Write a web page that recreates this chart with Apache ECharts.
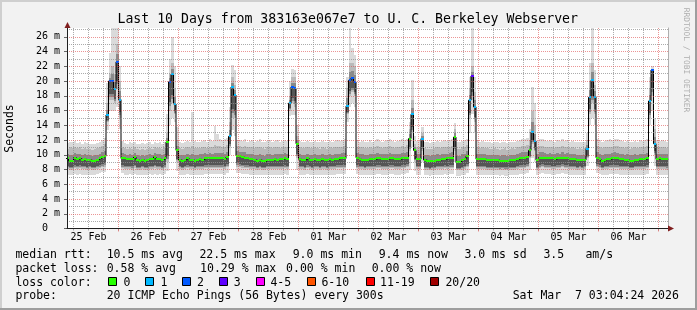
<!DOCTYPE html>
<html><head><meta charset="utf-8">
<script src="https://cdn.jsdelivr.net/npm/echarts@6/dist/echarts.min.js"></script>
<style>html,body{margin:0;padding:0;background:#f2f2f2}#c{width:697px;height:310px}</style>
</head><body><div id="c"></div>
<script>
// ---------------- DATA ----------------
// hourly steps, hour 0 = 25 Feb 00:00; first step starts at 03:00
const startHour = 3;
const dayLabels = ['25 Feb','26 Feb','27 Feb','28 Feb','01 Mar','02 Mar','03 Mar','04 Mar','05 Mar','06 Mar'];
const yTickValues = [0,2,4,6,8,10,12,14,16,18,20,22,24,26];

const median = [
 9.5,9.2,9.2,9.6,9.4,9.5,9.3,9.4,9.3,9.3,9.2,9.2,9.3,9.5,9.7,9.8,15.4,20.0,20.0,18.9,22.6,
 17.5,9.5,9.5,9.4,9.4,9.4,9.7,9.3,9.2,9.3,9.2,9.3,9.4,9.4,9.7,9.4,9.4,9.3,9.5,11.75,19.9,20.9,16.9,10.6,
 9.3,9.2,9.3,9.5,9.3,9.3,9.2,9.3,9.4,9.3,9.5,9.5,9.5,9.5,9.5,9.5,9.5,9.5,9.4,9.7,12.5,19.2,18.1,9.9,
 9.8,9.7,9.6,9.5,9.4,9.4,9.3,9.2,9.3,9.2,9.1,9.3,9.3,9.3,9.4,9.3,9.4,9.4,9.5,9.4,17.0,19.2,19.0,11.5,
 9.4,9.3,9.3,9.5,9.3,9.3,9.4,9.3,9.3,9.4,9.3,9.3,9.4,9.3,9.4,9.4,9.5,9.5,9.5,16.6,20.1,20.4,19.9,9.6,
 9.4,9.3,9.3,9.3,9.4,9.4,9.4,9.5,9.5,9.4,9.4,9.4,9.5,9.5,9.4,9.4,9.4,9.5,9.5,9.6,12.2,15.5,10.6,9.4,
 9.4,12.2,9.3,9.2,9.1,9.2,9.2,9.3,9.3,9.4,9.4,9.5,9.5,9.6,12.4,9.0,9.05,9.3,9.4,9.8,17.4,20.7,16.5,9.4,
 9.4,9.4,9.4,9.3,9.3,9.3,9.3,9.3,9.2,9.2,9.2,9.2,9.3,9.3,9.3,9.4,9.5,9.6,9.6,9.7,10.6,13.1,11.9,9.3,
 9.6,9.6,9.6,9.5,9.5,9.5,9.4,9.5,9.5,9.6,9.5,9.5,9.4,9.4,9.4,9.3,9.3,9.3,9.3,10.85,17.8,20.1,17.9,9.6,
 9.4,9.1,9.3,9.4,9.4,9.5,9.6,9.5,9.4,9.4,9.3,9.3,9.2,9.2,9.3,9.3,9.4,9.4,9.4,9.5,17.3,21.5,11.5,9.4,
 9.5,9.4,9.4,9.4
];
const loss = [
 0,0,0,0,0,0,0,0,0,0,0,0,0,0,0,0,1,2,2,1,2,
 1,0,0,0,0,0,0,0,0,0,0,0,0,0,0,0,0,0,0,0,2,1,1,0,
 0,0,0,0,0,0,0,0,0,0,0,0,0,0,0,0,0,0,0,0,1,1,1,0,
 0,0,0,0,0,0,0,0,0,0,0,0,0,0,0,0,0,0,0,0,1,2,2,0,
 0,0,0,0,0,0,0,0,0,0,0,0,0,0,0,0,0,0,0,1,2,2,2,0,
 0,0,0,0,0,0,0,0,0,0,0,0,0,0,0,0,0,0,0,0,0,1,0,0,
 0,1,0,0,0,0,0,0,0,0,0,0,0,0,0,0,0,0,0,0,1,3,1,0,
 0,0,0,0,0,0,0,0,0,0,0,0,0,0,0,0,0,0,0,0,0,1,1,0,
 0,0,0,0,0,0,0,0,0,0,0,0,0,0,0,0,0,0,0,1,1,1,1,0,
 0,0,0,0,0,0,0,0,0,0,0,0,0,0,0,0,0,0,0,0,1,2,1,0,
 0,0,0,0
];
const smokeMax = [
 11.6,11.8,11.7,11.9,11.6,11.8,11.5,11.7,11.6,11.5,11.4,11.5,11.6,11.8,12.0,12.3,19.7,23.8,27.5,27.5,27.5,
 22.0,11.9,11.6,11.5,11.7,11.6,11.8,11.5,11.4,11.6,11.5,11.6,11.7,11.5,11.8,11.6,11.7,11.5,11.8,15.6,23.0,26.0,22.0,13.8,
 11.7,11.6,11.8,11.9,11.7,15.8,11.9,11.8,11.7,11.9,12.0,11.8,12.1,11.9,13.9,12.8,12.2,12.0,12.1,12.3,16.5,22.2,21.5,12.0,
 12.0,11.9,12.1,11.8,11.9,12.0,11.8,11.9,12.1,11.8,11.7,11.9,12.0,11.8,11.9,12.0,11.8,11.9,12.0,11.9,20.0,21.7,21.5,14.0,
 11.9,11.8,11.7,11.9,11.8,11.7,11.9,11.8,11.7,11.9,11.8,11.7,11.9,11.8,11.9,12.0,11.9,12.0,12.1,20.5,27.3,24.5,23.5,12.0,
 11.8,11.9,11.7,11.8,12.0,11.8,11.9,12.1,11.9,11.8,11.9,12.0,12.1,11.9,11.8,11.9,12.0,12.1,12.0,12.2,14.5,20.1,12.5,11.9,
 11.9,13.8,11.8,11.7,11.6,11.7,11.8,11.9,11.8,11.9,12.0,11.9,12.0,12.1,14.3,11.8,11.7,11.9,12.0,12.2,20.6,27.3,20.5,12.0,
 11.8,11.9,11.7,11.8,11.7,11.6,11.8,11.7,11.6,11.7,11.8,11.6,11.7,11.8,11.7,11.9,12.0,12.1,12.2,12.3,13.5,19.2,17.0,11.9,
 12.1,12.2,12.0,11.9,12.0,11.9,11.8,12.0,11.9,12.1,11.9,12.0,11.8,11.9,11.8,11.7,11.8,11.7,11.8,13.0,22.5,27.3,21.5,12.2,
 12.0,11.8,11.9,12.0,12.1,12.0,12.2,12.1,12.0,11.9,11.8,11.9,11.7,11.8,11.9,11.8,12.0,11.9,12.0,12.1,20.5,22.0,15.0,12.0,
 11.9,12.0,11.9,11.8
];
const smokeHigh = [
 10.8,11.0,10.9,11.1,10.9,11.0,10.8,10.9,10.8,10.8,10.7,10.8,10.9,11.0,11.2,11.4,17.0,21.0,22.0,21.0,25.0,
 20.0,11.1,10.9,10.8,10.9,10.8,11.0,10.8,10.7,10.8,10.7,10.8,10.9,10.8,11.0,10.9,10.9,10.8,11.0,13.0,21.0,22.5,19.0,12.0,
 10.9,10.8,10.9,11.0,10.9,11.2,10.9,10.9,10.9,11.0,11.1,10.9,11.1,11.0,11.3,11.2,11.2,11.1,11.0,11.3,14.5,20.5,19.5,11.2,
 11.2,11.1,11.2,11.0,11.0,11.1,10.9,11.0,11.1,10.9,10.8,11.0,11.1,10.9,11.0,11.1,10.9,11.0,11.1,11.0,18.0,20.5,20.5,12.5,
 11.0,10.9,10.9,11.0,10.9,10.9,11.0,10.9,10.8,11.0,10.9,10.8,11.0,10.9,11.0,11.1,11.0,11.1,11.2,19.0,22.5,22.5,22.0,11.1,
 11.0,11.0,10.9,10.9,11.1,10.9,11.0,11.2,11.0,10.9,11.0,11.1,11.2,11.0,10.9,11.0,11.1,11.2,11.1,11.3,13.5,17.5,11.5,11.0,
 11.0,13.0,10.9,10.8,10.8,10.8,10.9,11.0,10.9,11.0,11.1,11.0,11.1,11.2,13.5,10.8,10.8,11.0,11.1,11.3,19.0,22.0,18.5,11.1,
 10.9,11.0,10.9,10.9,10.8,10.8,10.9,10.8,10.7,10.8,10.9,10.7,10.8,10.9,10.8,11.0,11.1,11.2,11.2,11.3,12.0,16.0,14.0,11.0,
 11.2,11.2,11.1,11.0,11.1,11.0,10.9,11.1,11.0,11.2,11.0,11.1,10.9,11.0,10.9,10.8,10.9,10.8,10.9,12.0,20.0,22.5,19.5,11.2,
 11.1,10.9,11.0,11.1,11.1,11.1,11.2,11.2,11.1,11.0,10.9,11.0,10.8,10.9,11.0,10.9,11.1,11.0,11.1,11.2,19.0,21.5,13.5,11.0,
 11.0,11.1,11.0,10.9
];
const smokeLow = [
 8.1,8.0,8.0,8.2,8.1,8.2,8.1,8.1,8.0,8.1,8.0,8.0,8.1,8.2,8.3,8.4,14.5,17.5,17.5,17.0,19.0,
 15.0,8.2,8.1,8.1,8.1,8.0,8.2,8.0,8.0,8.1,8.0,8.0,8.1,8.1,8.2,8.1,8.1,8.0,8.2,9.0,16.0,17.0,15.5,9.0,
 8.1,8.0,8.1,8.2,8.1,8.1,8.0,8.1,8.1,8.1,8.2,8.2,8.2,8.2,8.2,8.2,8.2,8.2,8.1,8.3,11.0,15.0,15.0,8.4,
 8.3,8.2,8.2,8.2,8.1,8.1,8.1,8.0,8.1,8.0,8.0,8.1,8.1,8.1,8.1,8.1,8.1,8.1,8.2,8.1,16.0,17.0,16.5,9.5,
 8.1,8.1,8.0,8.2,8.1,8.0,8.1,8.1,8.0,8.1,8.1,8.0,8.1,8.1,8.1,8.2,8.2,8.2,8.2,15.5,18.0,18.5,18.0,8.2,
 8.1,8.1,8.0,8.1,8.1,8.1,8.1,8.2,8.2,8.1,8.1,8.1,8.2,8.2,8.1,8.1,8.1,8.2,8.2,8.3,10.5,13.0,9.0,8.1,
 8.1,10.5,8.0,8.0,7.9,8.0,8.0,8.1,8.1,8.1,8.2,8.1,8.2,8.2,10.5,7.9,7.9,8.0,8.1,8.3,15.0,17.5,14.5,8.1,
 8.1,8.1,8.1,8.0,8.0,8.0,8.0,8.0,7.9,8.0,7.9,7.9,8.0,8.0,8.0,8.1,8.2,8.2,8.2,8.3,9.5,11.5,10.5,8.0,
 8.2,8.3,8.2,8.2,8.2,8.1,8.1,8.2,8.2,8.3,8.2,8.2,8.1,8.1,8.1,8.0,8.1,8.0,8.1,9.5,15.5,17.0,15.5,8.3,
 8.2,8.0,8.1,8.1,8.2,8.2,8.2,8.2,8.1,8.1,8.1,8.1,8.0,8.0,8.1,8.1,8.1,8.1,8.1,8.2,15.0,18.0,10.0,8.1,
 8.1,8.1,8.1,8.0
];
const smokeMin = [
 7.3,7.3,7.2,7.4,7.3,7.4,7.3,7.3,7.2,7.3,7.3,7.3,7.4,7.5,7.6,7.7,13.4,16.0,16.0,16.0,16.5,
 13.5,7.5,7.3,7.3,7.4,7.3,7.4,7.2,7.2,7.3,7.3,7.3,7.4,7.3,7.4,7.3,7.4,7.3,7.4,7.8,14.0,15.0,14.5,7.8,
 7.3,7.2,7.3,7.4,7.3,7.3,7.2,7.3,7.3,7.3,7.4,7.4,7.4,7.4,7.4,7.4,7.4,7.4,7.3,7.5,10.0,13.3,12.5,7.5,
 7.5,7.4,7.4,7.4,7.3,7.3,7.3,7.2,7.3,7.2,7.2,7.3,7.3,7.3,7.3,7.3,7.3,7.3,7.4,7.3,15.2,15.4,15.4,8.0,
 7.3,7.3,7.2,7.4,7.3,7.2,7.3,7.3,7.2,7.3,7.3,7.2,7.3,7.3,7.3,7.4,7.4,7.4,7.4,14.5,16.5,17.0,16.5,7.4,
 7.3,7.3,7.2,7.3,7.3,7.3,7.3,7.4,7.4,7.3,7.3,7.3,7.4,7.4,7.3,7.3,7.3,7.4,7.4,7.5,8.0,11.0,7.8,7.3,
 7.3,9.0,7.2,7.2,7.1,7.2,7.2,7.3,7.3,7.3,7.4,7.3,7.4,7.4,9.0,7.1,7.1,7.2,7.3,7.5,13.0,15.5,13.0,7.3,
 7.3,7.3,7.3,7.2,7.2,7.2,7.2,7.2,7.1,7.2,7.1,7.1,7.2,7.2,7.2,7.3,7.4,7.4,7.4,7.5,8.0,9.5,9.0,7.2,
 7.4,7.5,7.4,7.4,7.4,7.3,7.3,7.4,7.4,7.5,7.4,7.4,7.3,7.3,7.3,7.2,7.3,7.2,7.3,8.5,14.0,15.0,14.0,7.5,
 7.4,7.2,7.3,7.3,7.4,7.4,7.4,7.4,7.3,7.3,7.3,7.3,7.2,7.2,7.3,7.3,7.3,7.3,7.3,7.4,14.0,16.0,8.5,7.3,
 7.3,7.3,7.3,7.2
];
const lossColors = ['#26ff00','#00b8ff','#0059ff','#5e00ff','#ff00ff','#ff5500','#ff0000','#a00000'];
const lossLabels = ['0','1','2','3','4-5','6-10','11-19','20/20'];
const titleText = 'Last 10 Days from 383163e067e7 to U. C. Berkeley Webserver';
const statRows = [
  ['median rtt:', '10.5 ms avg', '22.5 ms max', '9.0 ms min', '9.4 ms now', '3.0 ms sd', '3.5', 'am/s'],
  ['packet loss:', '0.58 % avg', '10.29 % max', '0.00 % min', '0.00 % now']
];
const probeRow = ['probe:', '20 ICMP Echo Pings (56 Bytes) every 300s', 'Sat Mar  7 03:04:24 2026'];

// ---------------- LAYOUT ----------------
const MONO = '"DejaVu Sans Mono", monospace';
const Y0 = 228.5, PXMS = 7.37;            // zero line, pixels per ms
const PLOT_L = 67, PLOT_R = 668, PLOT_T = 28;
const PXH = 2.5, MID0 = 58.5;              // px per hour, x of 25 Feb 00:00
const xAt = h => MID0 + PXH * h;
const GRID_MINOR = 'rgba(143,143,143,0.75)';
const GRID_MAJOR = 'rgba(222,79,79,0.6)';
const NONE = 'rgba(0,0,0,0)';
const AXIS_COL = '#1f1f1f';
const DOT = [1, 1];

function lossIdx(n){ return n <= 3 ? n : n <= 5 ? 4 : n <= 10 ? 5 : n < 20 ? 6 : 7; }

const smokeData = median.map((m, i) => [startHour + i, smokeMin[i], smokeLow[i], smokeHigh[i], smokeMax[i], m]);
const lineData = median.map((m, i) => [startHour + i, m]);
lineData.push([startHour + median.length, median[median.length - 1]]);
const lossData = median.map((m, i) => [startHour + i, m, loss[i]]);

function clipTo(params){ const c = params.coordSys; return {x:c.x, y:c.y, width:c.width, height:c.height}; }

function renderSmoke(params, api){
  const h = api.value(0);
  const xl = Math.round(api.coord([h, 0])[0]);
  const xr = Math.round(api.coord([h + 1, 0])[0]);
  const clip = clipTo(params);
  const yOf = v => api.coord([h, v])[1];
  const lo2 = api.value(1), lo1 = api.value(2), hi1 = api.value(3), hi2 = api.value(4), md = api.value(5);
  const band = (a, b, fill) => {
    const yt = Math.round(yOf(b)), yb = Math.round(yOf(a));
    const r = echarts.graphic.clipRectByRect({x: xl, y: yt, width: xr - xl, height: yb - yt}, clip);
    return r ? {type: 'rect', shape: r, style: {fill: fill}} : null;
  };
  const kids = [
    band(lo2, hi2, '#dadada'),
    band(lo1, hi1, '#bababa'),
    band(lo1 + 0.15 * (md - lo1), md + 0.45 * (hi1 - md), '#8a8a8a'),
    band(lo1 + 0.3 * (md - lo1), md, '#555555')
  ].filter(Boolean);
  return {type: 'group', children: kids};
}
function renderLoss(params, api){
  const h = api.value(0);
  const xl = Math.round(api.coord([h, 0])[0]);
  const xr = Math.round(api.coord([h + 1, 0])[0]);
  const y = Math.round(api.coord([h, api.value(1)])[1]);
  const r = echarts.graphic.clipRectByRect({x: xl, y: y - 1, width: xr - xl, height: 2}, clipTo(params));
  return r ? {type: 'rect', shape: r, style: {fill: lossColors[lossIdx(api.value(2))]}} : null;
}

// ---------------- GRAPHICS (text, frame, arrows) ----------------
const g = [];
const txt = (x, y, s, size, opts) => Object.assign({type: 'text', x: x, y: y, z: 10,
  style: {text: s, font: size + 'px ' + MONO, fill: '#000', align: 'left', verticalAlign: 'middle'}}, opts || {});
g.push({type:'rect', z:10, shape:{x:0,y:0,width:697,height:2}, style:{fill:'#cfcfcf'}});
g.push({type:'rect', z:10, shape:{x:0,y:0,width:2,height:310}, style:{fill:'#cfcfcf'}});
g.push({type:'rect', z:10, shape:{x:0,y:308,width:697,height:2}, style:{fill:'#9e9e9e'}});
g.push({type:'rect', z:10, shape:{x:695,y:0,width:2,height:310}, style:{fill:'#9e9e9e'}});
g.push(txt(347.7, 19.4, titleText, 13.2, {style:{text: titleText, font:'13.2px ' + MONO, fill:'#000', align:'center', verticalAlign:'middle'}}));
g.push({type:'text', x:10.5, y:128.5, rotation: Math.PI/2, z:10,
  style:{text:'Seconds', font:'11.5px ' + MONO, fill:'#000', align:'center', verticalAlign:'middle'}});
g.push({type:'text', x:686.5, y:60, rotation: -Math.PI/2, z:10,
  style:{text:'RRDTOOL / TOBI OETIKER', font:'7.9px ' + MONO, fill:'rgba(0,0,0,0.3)', align:'center', verticalAlign:'middle'}});
g.push({type:'polygon', z:10, shape:{points:[[64.5,28],[70.5,28],[67.5,22]]}, style:{fill:'#801f1f'}});
g.push({type:'polygon', z:10, shape:{points:[[668,225.5],[668,231.5],[674,228.5]]}, style:{fill:'#801f1f'}});

const statX = [[15.4,106.7,199.4,292.7,378.7,464.4,543.4,585.4],[15.4,106.7,200.1,286.1,371.7]];
const statY = [254.9, 268.6];
statRows.forEach((row, r) => row.forEach((s, k) => g.push(txt(statX[r][k], statY[r], s, 11.5))));
g.push(txt(15.4, 282.6, 'loss color:', 11.5));
const swX = [108.5,145.5,182.5,219.5,256.5,307.5,366.5,430.5];
const swTextX = [123.4,160.4,197.1,233.7,270.4,321.4,380.1,445.4];
lossLabels.forEach((s, k) => {
  g.push({type:'rect', z:10, shape:{x:swX[k], y:277.5, width:8, height:8}, style:{fill:lossColors[k], stroke:'#000', lineWidth:1}});
  g.push(txt(swTextX[k], 282.6, s, 11.5));
});
const probeX = [15.4, 106.7, 512.7];
probeRow.forEach((s, k) => g.push(txt(probeX[k], 296.3, s, 11.5)));

// ---------------- CHART ----------------
const noAxis = (gi, extra) => Object.assign({gridIndex: gi, type: 'value', min: 0, max: 1, show: false}, extra || {});
const GB = {containLabel: false, outerBoundsMode: 'none'};
const option = {
  backgroundColor: '#f2f2f2',
  animation: false,
  grid: [
    Object.assign({left: PLOT_L, top: PLOT_T, width: PLOT_R - PLOT_L, height: Y0 - PLOT_T, show: true, backgroundColor: '#ffffff', borderWidth: 0, z: 0}, GB),
    Object.assign({left: PLOT_L, top: Y0 - 27 * PXMS, width: PLOT_R - PLOT_L, height: 27 * PXMS}, GB),
    Object.assign({left: PLOT_L, top: Y0 - 26 * PXMS, width: PLOT_R - PLOT_L, height: 26 * PXMS}, GB),
    Object.assign({left: xAt(6), top: PLOT_T, width: xAt(240) - xAt(6), height: Y0 - PLOT_T}, GB),
    Object.assign({left: xAt(24), top: PLOT_T, width: xAt(240) - xAt(24), height: Y0 - PLOT_T}, GB),
    Object.assign({left: xAt(12), top: PLOT_T, width: xAt(228) - xAt(12), height: Y0 - PLOT_T}, GB)
  ],
  xAxis: [
    {gridIndex: 0, type: 'value', min: (PLOT_L - MID0) / PXH, max: (PLOT_R - MID0) / PXH, z: 6,
     axisLine: {show: true, onZero: false, lineStyle: {color: AXIS_COL, width: 1}}, axisTick: {show: false}, axisLabel: {show: false}, splitLine: {show: false}},
    noAxis(1), noAxis(2),
    {gridIndex: 3, type: 'value', min: 6, max: 240, interval: 6, z: 4,
     axisLine: {show: false}, axisTick: {show: true, length: 2, lineStyle: {color: GRID_MINOR}}, axisLabel: {show: false},
     splitLine: {show: true, lineStyle: {color: [GRID_MINOR, GRID_MINOR, GRID_MINOR, NONE], width: 1, type: DOT}}},
    {gridIndex: 4, type: 'value', min: 24, max: 240, interval: 24, z: 5,
     axisLine: {show: false}, axisTick: {show: true, length: 3, lineStyle: {color: GRID_MAJOR}}, axisLabel: {show: false},
     splitLine: {show: true, lineStyle: {color: GRID_MAJOR, width: 1, type: DOT}}},
    {gridIndex: 5, type: 'value', min: 12, max: 228, interval: 24, z: 4,
     axisLine: {show: false}, axisTick: {show: false}, splitLine: {show: false},
     axisLabel: {show: true, showMinLabel: true, showMaxLabel: true, margin: 4, color: '#000', fontFamily: MONO, fontSize: 10,
       formatter: v => dayLabels[Math.round((v - 12) / 24)] || ''}}
  ],
  yAxis: [
    {gridIndex: 0, type: 'value', min: 0, max: (Y0 - PLOT_T) / PXMS, z: 6, position: 'left',
     axisLine: {show: true, onZero: false, lineStyle: {color: AXIS_COL, width: 1}}, axisTick: {show: false}, axisLabel: {show: false}, splitLine: {show: false}},
    {gridIndex: 1, type: 'value', min: 0, max: 27, interval: 1, z: 4,
     axisLine: {show: false}, axisTick: {show: false}, axisLabel: {show: false},
     splitLine: {show: true, lineStyle: {color: [NONE, GRID_MINOR], width: 1, type: DOT}}},
    {gridIndex: 2, type: 'value', min: 0, max: 26, interval: 2, z: 5,
     axisLine: {show: false}, axisTick: {show: true, length: 3, lineStyle: {color: '#666'}},
     axisLabel: {show: true, margin: 7, color: '#000', fontFamily: MONO, fontSize: 10, showMinLabel: true, showMaxLabel: true,
       formatter: v => (yTickValues.indexOf(v) < 0 ? '' : (v === 0 ? '0  ' : v + ' m'))},
     splitLine: {show: true, lineStyle: {color: GRID_MAJOR, width: 1, type: DOT}}},
    noAxis(3), noAxis(4), noAxis(5),
    {gridIndex: 0, type: 'value', min: 0, max: 1, position: 'right', z: 4,
     axisLine: {show: true, onZero: false, lineStyle: {color: GRID_MINOR, width: 1, type: DOT}}, axisTick: {show: false}, axisLabel: {show: false}, splitLine: {show: false}}
  ],
  series: [
    {type: 'custom', xAxisIndex: 0, yAxisIndex: 0, z: 1, renderItem: renderSmoke, data: smokeData,
     encode: {x: 0, y: [1, 2, 3, 4, 5]}, silent: true},
    {type: 'line', xAxisIndex: 0, yAxisIndex: 0, z: 2, step: 'end', data: lineData, symbol: 'none', showSymbol: false,
     lineStyle: {color: '#000', width: 1}, silent: true},
    {type: 'custom', xAxisIndex: 0, yAxisIndex: 0, z: 3, renderItem: renderLoss, data: lossData,
     encode: {x: 0, y: 1}, silent: true}
  ],
  graphic: {elements: g}
};
const chart = echarts.init(document.getElementById('c'), null, {renderer: 'canvas', width: 697, height: 310});
chart.setOption(option);
</script>
</body></html>
